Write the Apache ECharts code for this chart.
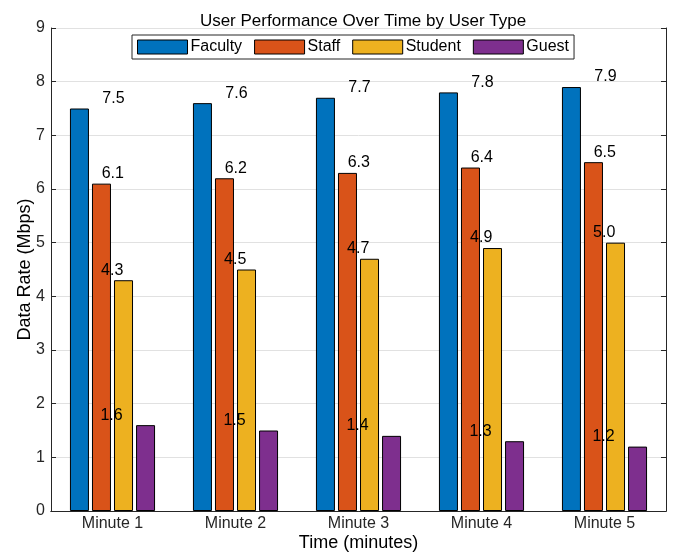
<!DOCTYPE html>
<html><head><meta charset="utf-8">
<script src="https://cdn.jsdelivr.net/npm/echarts@6/dist/echarts.min.js"></script>
<style>html,body{margin:0;padding:0;background:#fff}#c{width:674px;height:554px}</style>
</head><body><div id="c"></div>
<script>
const categories = ['Minute 1','Minute 2','Minute 3','Minute 4','Minute 5'];
const seriesNames = ['Faculty','Staff','Student','Guest'];
const faculty = [7.5, 7.6, 7.7, 7.8, 7.9];
const staff = [6.1, 6.2, 6.3, 6.4, 6.5];
const student = [4.3, 4.5, 4.7, 4.9, 5.0];
const guest = [1.6, 1.5, 1.4, 1.3, 1.2];
const yTicks = [0,1,2,3,4,5,6,7,8,9];

const colors = ['#0072BD','#D95319','#EDB120','#7E2F8E'];
const values = [faculty, staff, student, guest];
const labelOffsets = [33, 11, -11, -33];
const font = 'Liberation Sans, Arial, Helvetica, sans-serif';
const axisColor = '#262626';

const chart = echarts.init(document.getElementById('c'), null, {renderer:'canvas'});
chart.setOption({
  animation:false,
  textStyle:{fontFamily:font},
  title:{text:'User Performance Over Time by User Type', left:358, textAlign:'center', top:8,
    textStyle:{fontSize:17, fontWeight:'normal', color:'#000', fontFamily:font}},
  legend:{
    data:seriesNames, top:35, left:132, itemWidth:50, itemHeight:14, itemGap:12, icon:'rect',
    padding:[4,5,4,5], borderColor:axisColor, borderWidth:1, backgroundColor:'#fff',
    textStyle:{fontSize:16, color:'#000', fontFamily:font, padding:[0,0,0,-2], lineHeight:16},
    itemStyle:{borderColor:'#000', borderWidth:1}
  },
  grid:{left:51, right:8, top:28, bottom:43, containLabel:false, outerBoundsMode:'none'},
  xAxis:[{
    type:'category', data:categories, boundaryGap:true,
    name:'Time (minutes)', nameLocation:'middle', nameGap:23, nameMoveOverlap:false,
    nameTextStyle:{fontSize:18, color:'#000', fontFamily:font},
    axisLine:{lineStyle:{color:axisColor}},
    axisTick:{alignWithLabel:true, inside:true, length:5, lineStyle:{color:axisColor}},
    axisLabel:{fontSize:16, color:'#262626', margin:5, fontFamily:font},
    splitLine:{show:false}
  },{
    type:'category', data:categories, position:'top', boundaryGap:true,
    axisLine:{lineStyle:{color:axisColor}},
    axisTick:{alignWithLabel:true, inside:true, length:5, lineStyle:{color:axisColor}},
    axisLabel:{show:false}, splitLine:{show:false}
  }],
  yAxis:[{
    type:'value', min:yTicks[0], max:yTicks[yTicks.length-1], interval:1,
    name:'Data Rate (Mbps)', nameLocation:'middle', nameGap:17, nameMoveOverlap:false,
    nameTextStyle:{fontSize:18, color:'#000', fontFamily:font},
    axisLine:{show:true, lineStyle:{color:axisColor}},
    axisTick:{show:true, inside:true, length:5, lineStyle:{color:axisColor}},
    axisLabel:{fontSize:16, color:'#262626', margin:6, fontFamily:font},
    splitLine:{show:true, lineStyle:{color:'#e1e1e1', width:1}}
  },{
    type:'value', min:yTicks[0], max:yTicks[yTicks.length-1], interval:1, position:'right',
    axisLine:{show:true, lineStyle:{color:axisColor}},
    axisTick:{show:true, inside:true, length:5, lineStyle:{color:axisColor}},
    axisLabel:{show:false}, splitLine:{show:false}
  }],
  series: seriesNames.map((n,i)=>({
    name:n, type:'bar', data:values[i], barWidth:19, barGap:'16%',
    itemStyle:{color:colors[i], borderColor:'#000', borderWidth:1},
    label:{show:true, position:'top', distance:2, offset:[labelOffsets[i]*1.03,0],
      formatter:p=>p.value.toFixed(1), fontSize:16, color:'#000', fontFamily:font},
    z: 2
  }))
});
</script></body></html>
